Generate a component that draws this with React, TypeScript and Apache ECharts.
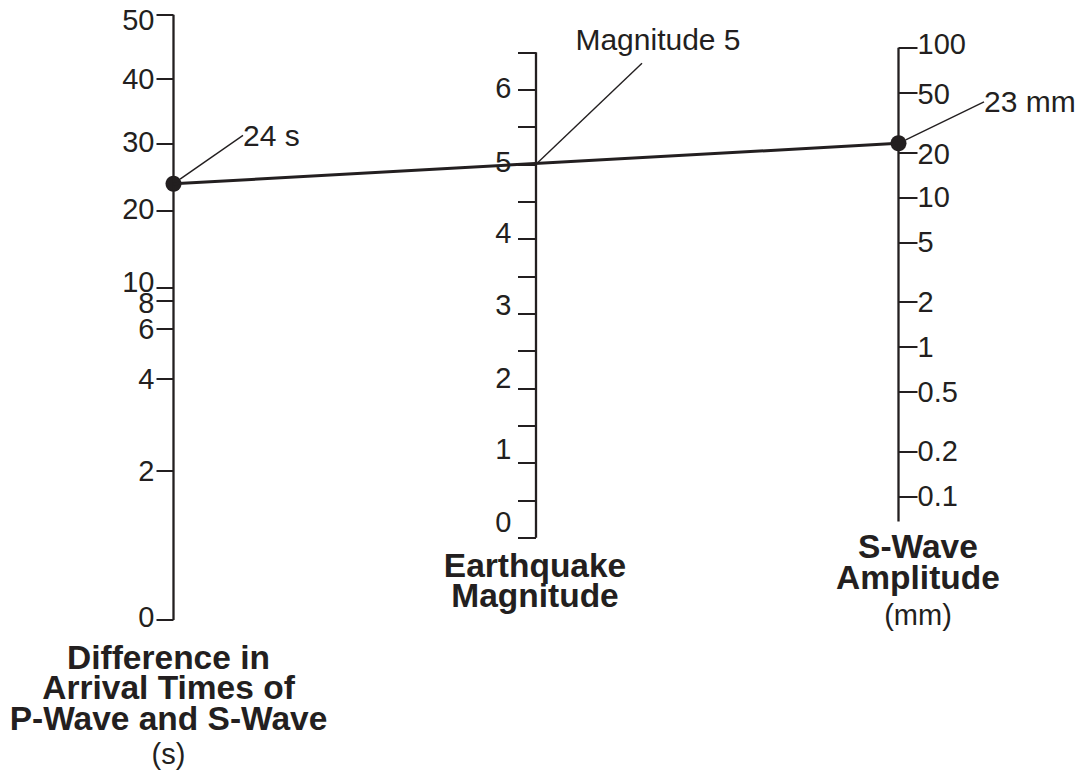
import React, { useEffect, useRef } from "react";
import * as echarts from "echarts";

// ---- Data ----
// Left scale: difference in arrival times of P- and S-wave (s) — non-linear nomogram scale
const timeTicks = [0, 2, 4, 6, 8, 10, 20, 30, 40, 50];
// fraction of the scale length at which each time tick sits
const timeScale = [0, 0.2462, 0.3986, 0.4812, 0.527, 0.5496, 0.6762, 0.7875, 0.8943, 1];

// Middle scale: earthquake magnitude
const magMinorTicks = [0, 0.5, 1, 1.5, 2, 2.5, 3, 3.5, 4, 4.5, 5, 5.5, 6, 6.5];
const magLabels = [0, 1, 2, 3, 4, 5, 6];
const magRange = [0, 6.5];

// Right scale: S-wave amplitude (mm), logarithmic
const ampTicks = [0.1, 0.2, 0.5, 1, 2, 5, 10, 20, 50, 100];
const ampRange = [0.068, 100];

// Worked example
const readingTime = 24;
const readingMagnitude = 5;
const readingAmplitude = 23;

// ---- Layout / style ----
const INK = "#231f20";
const FONT = "'Liberation Sans', Arial, Helvetica, sans-serif";
const TICK_FONT = 29;
const NOTE_FONT = 30;
const TIME_AXIS = [0, 1];
const MAG_AXIS = [-1.102, 7.0032];
const AMP_AXIS_LOG = [-1.8264, 2.2217];
const MAG_LEADER = [106, -101]; // leader from the magnitude point to its note

const timeLabelNudge = [-3, 0, 0, 0, 2, -5.5, -1.5, -1, 0, 5];
const magLabelNudge = [-16, -13.7, -10, -8.7, -5.6, -2.7, -1.3];
const ampLabelNudge = [0, 0, 0, 0, 0, 0, 0, 2, 1, -4];

const log10 = (v: number) => Math.log10(v);

function timePos(t: number): number {
  for (let i = 1; i < timeTicks.length; i++) {
    if (t <= timeTicks[i]) {
      const f = (t - timeTicks[i - 1]) / (timeTicks[i] - timeTicks[i - 1]);
      return timeScale[i - 1] + f * (timeScale[i] - timeScale[i - 1]);
    }
  }
  return timeScale[timeScale.length - 1];
}

function nearestIndex(arr: number[], v: number): number {
  let best = 0;
  for (let i = 1; i < arr.length; i++) {
    if (Math.abs(arr[i] - v) < Math.abs(arr[best] - v)) best = i;
  }
  return best;
}

function makeRich(prefix: string, nudges: number[]) {
  const rich: Record<string, any> = {};
  nudges.forEach((d, i) => {
    rich[prefix + i] = {
      fontSize: TICK_FONT,
      fontFamily: FONT,
      color: INK,
      padding: d < 0 ? [0, 0, -2 * d, 0] : [2 * d, 0, 0, 0],
    };
  });
  return rich;
}

function valueAxis(
  position: string,
  offset: number,
  extent: number[],
  tickVals: number[],
  labelVals: number[],
  tickLen: number,
  margin: number,
  formatter: (v: number) => string,
  rich: Record<string, any>
) {
  return {
    type: "value",
    position,
    offset,
    min: extent[0],
    max: extent[1],
    axisLine: { show: false, onZero: false },
    splitLine: { show: false },
    axisTick: {
      show: true,
      customValues: tickVals,
      length: tickLen,
      lineStyle: { color: INK, width: 2 },
    },
    axisLabel: {
      show: true,
      customValues: labelVals,
      margin,
      formatter,
      rich,
      fontSize: TICK_FONT,
      fontFamily: FONT,
      color: INK,
    },
  };
}

const labelText = { fontSize: NOTE_FONT, fontFamily: FONT, color: INK };
const titleStyle = { fontSize: 33.5, fontWeight: "bold", fontFamily: FONT, color: INK, lineHeight: 30.5 };
const subStyle = { fontSize: 29, fontFamily: FONT, color: INK, lineHeight: 30 };

export default function App() {
  const ref = useRef<HTMLDivElement>(null);

  useEffect(() => {
    if (!ref.current) return;
    const chart = echarts.init(ref.current, null, { renderer: "svg" });

    const ampLog = ampTicks.map(log10);

    const option: any = {
      animation: false,
      backgroundColor: "#ffffff",
      textStyle: { fontFamily: FONT },
      grid: {
        left: 173.5,
        right: 183.5,
        top: 14.7,
        bottom: 156,
        containLabel: false,
        outerBoundsMode: "none",
      },
      title: [
        {
          text: "Difference in\nArrival Times of\nP-Wave and S-Wave",
          subtext: "(s)",
          left: 168.5,
          top: 642,
          textAlign: "center",
          padding: 0,
          itemGap: 2,
          textStyle: titleStyle,
          subtextStyle: subStyle,
        },
        {
          text: "Earthquake\nMagnitude",
          left: 535,
          top: 550,
          textAlign: "center",
          padding: 0,
          textStyle: titleStyle,
        },
        {
          text: "S-Wave\nAmplitude",
          subtext: "(mm)",
          left: 918,
          top: 531.7,
          textAlign: "center",
          padding: 0,
          itemGap: 4,
          textStyle: titleStyle,
          subtextStyle: subStyle,
        },
      ],
      xAxis: { type: "value", min: 0, max: 2, show: false, axisLine: { onZero: false } },
      yAxis: [
        valueAxis(
          "left",
          0,
          TIME_AXIS,
          timeScale,
          timeScale,
          17,
          19,
          (v: number) => {
            const i = nearestIndex(timeScale, v);
            return `{t${i}|${timeTicks[i]}}`;
          },
          makeRich("t", timeLabelNudge)
        ),
        valueAxis(
          "left",
          -362.5,
          MAG_AXIS,
          magMinorTicks,
          magLabels,
          18,
          24.5,
          (v: number) => {
            const i = nearestIndex(magLabels, v);
            return `{m${i}|${magLabels[i]}}`;
          },
          makeRich("m", magLabelNudge)
        ),
        valueAxis(
          "right",
          0,
          AMP_AXIS_LOG,
          ampLog,
          ampLog,
          19,
          19,
          (v: number) => {
            const i = nearestIndex(ampLog, v);
            return `{a${i}|${ampTicks[i]}}`;
          },
          makeRich("a", ampLabelNudge)
        ),
      ],
      series: [
        {
          type: "line",
          name: "time scale",
          xAxisIndex: 0,
          yAxisIndex: 0,
          data: [
            [0, timePos(timeTicks[0])],
            [0, timePos(timeTicks[timeTicks.length - 1])],
          ],
          symbol: "none",
          clip: false,
          silent: true,
          lineStyle: { color: INK, width: 2.3 },
        },
        {
          type: "line",
          name: "magnitude scale",
          xAxisIndex: 0,
          yAxisIndex: 1,
          data: [
            [1, magRange[0]],
            [1, magRange[1]],
          ],
          symbol: "none",
          clip: false,
          silent: true,
          lineStyle: { color: INK, width: 2.3 },
        },
        {
          type: "line",
          name: "amplitude scale",
          xAxisIndex: 0,
          yAxisIndex: 2,
          data: [
            [2, log10(ampRange[0])],
            [2, log10(ampRange[1])],
          ],
          symbol: "none",
          clip: false,
          silent: true,
          lineStyle: { color: INK, width: 2.3 },
        },
        {
          id: "reading",
          type: "line",
          name: "reading",
          xAxisIndex: 0,
          yAxisIndex: 1,
          data: [],
          symbol: "none",
          clip: false,
          silent: true,
          lineStyle: { color: INK, width: 3 },
        },
        {
          type: "scatter",
          name: "time reading",
          xAxisIndex: 0,
          yAxisIndex: 0,
          data: [[0, timePos(readingTime)]],
          symbolSize: 16,
          itemStyle: { color: INK, opacity: 1 },
          clip: false,
          silent: true,
          label: {
            show: true,
            position: "right",
            distance: 5,
            formatter: `${readingTime} s`,
            ...labelText,
          },
          labelLayout: { dx: 56.5, dy: -48.3 },
          labelLine: { show: true, lineStyle: { color: INK, width: 1.4, opacity: 1 } },
        },
        {
          id: "magPoint",
          type: "scatter",
          name: "magnitude reading",
          xAxisIndex: 0,
          yAxisIndex: 1,
          data: [[1, readingMagnitude]],
          symbolSize: 2,
          itemStyle: { color: "rgba(0,0,0,0)", opacity: 1 },
          clip: false,
          silent: true,
          label: {
            show: true,
            position: "top",
            distance: 5,
            formatter: `Magnitude ${readingMagnitude}`,
            ...labelText,
          },
          labelLayout: { dx: 122, dy: -104 },
        },
        {
          type: "scatter",
          name: "amplitude reading",
          xAxisIndex: 0,
          yAxisIndex: 2,
          data: [[2, log10(readingAmplitude)]],
          symbolSize: 16,
          itemStyle: { color: INK, opacity: 1 },
          clip: false,
          silent: true,
          label: {
            show: true,
            position: "right",
            distance: 5,
            formatter: `${readingAmplitude} mm`,
            ...labelText,
          },
          labelLayout: { dx: 72.5, dy: -41.3 },
          labelLine: { show: true, lineStyle: { color: INK, width: 1.4, opacity: 1 } },
        },
      ],
    };

    chart.setOption(option);

    // Connect the two readings with a straight line, expressed in the magnitude axis's units
    const toNum = (r: any) => (Array.isArray(r) ? r[1] : r);
    const leftPx = toNum(chart.convertToPixel({ yAxisIndex: 0 } as any, timePos(readingTime)));
    const rightPx = toNum(chart.convertToPixel({ yAxisIndex: 2 } as any, log10(readingAmplitude)));
    const mLeft = toNum(chart.convertFromPixel({ yAxisIndex: 1 } as any, leftPx));
    const mRight = toNum(chart.convertFromPixel({ yAxisIndex: 1 } as any, rightPx));

    // Leader for the magnitude note, starting at the magnitude point on its scale
    const magPt = chart.convertToPixel(
      { xAxisIndex: 0, yAxisIndex: 1 } as any,
      [1, readingMagnitude]
    ) as unknown as number[];

    chart.setOption({
      series: [
        {
          id: "reading",
          data: [
            [0, mLeft],
            [2, mRight],
          ],
        },
      ],
      graphic: [
        {
          type: "line",
          silent: true,
          z: 10,
          shape: {
            x1: magPt[0],
            y1: magPt[1],
            x2: magPt[0] + MAG_LEADER[0],
            y2: magPt[1] + MAG_LEADER[1],
          },
          style: { stroke: INK, lineWidth: 1.4 },
        },
      ],
    });

    return () => {
      chart.dispose();
    };
  }, []);

  return (
    <div
      ref={ref}
      style={{ position: "fixed", left: 0, top: 0, width: 1082, height: 776, background: "#fff" }}
    />
  );
}
